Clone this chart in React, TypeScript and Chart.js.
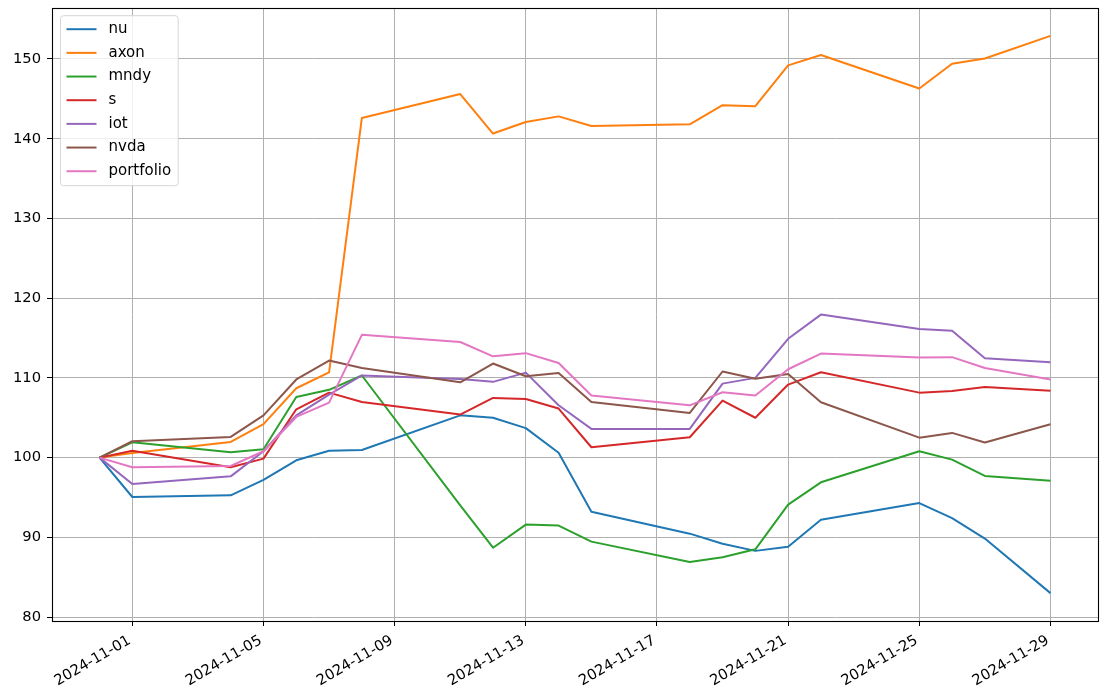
import React, { useEffect, useRef } from 'react';
import { Chart, registerables } from 'chart.js';

Chart.register(...registerables);

const dates = ['2024-10-31', '2024-11-01', '2024-11-04', '2024-11-05', '2024-11-06', '2024-11-07', '2024-11-08', '2024-11-11', '2024-11-12', '2024-11-13', '2024-11-14', '2024-11-15', '2024-11-18', '2024-11-19', '2024-11-20', '2024-11-21', '2024-11-22', '2024-11-25', '2024-11-26', '2024-11-27', '2024-11-29'];

const nu = [100, 95.06, 95.27, 97.2, 99.66, 100.87, 100.96, 105.3, 105.0, 103.7, 100.6, 93.2, 90.46, 89.2, 88.3, 88.83, 92.2, 94.3, 92.4, 89.84, 83.0];
const axon = [100, 100.58, 101.96, 104.2, 108.7, 110.7, 142.6, 145.6, 140.65, 142.1, 142.8, 141.6, 141.8, 144.2, 144.08, 149.2, 150.5, 146.3, 149.4, 150.06, 152.9];
const mndy = [100, 101.92, 100.66, 101.04, 107.6, 108.5, 110.3, 94.0, 88.7, 91.6, 91.47, 89.46, 86.9, 87.5, 88.5, 94.1, 96.9, 100.8, 99.75, 97.7, 97.1];
const s = [100, 100.87, 98.8, 99.87, 106.06, 108.15, 106.98, 105.4, 107.48, 107.36, 106.15, 101.3, 102.55, 107.15, 105.0, 109.16, 110.7, 108.15, 108.36, 108.86, 108.4];
const iot = [100, 96.7, 97.65, 100.8, 105.3, 107.9, 110.3, 109.87, 109.5, 110.66, 106.56, 103.6, 103.6, 109.28, 110.0, 114.9, 117.94, 116.14, 115.9, 112.46, 111.96];
const nvda = [100, 102.05, 102.6, 105.3, 109.8, 112.17, 111.24, 109.45, 111.8, 110.2, 110.6, 106.98, 105.6, 110.8, 109.9, 110.5, 106.94, 102.5, 103.1, 101.9, 104.18];
const portfolio = [100, 98.8, 98.95, 100.8, 105.1, 106.9, 115.4, 114.5, 112.7, 113.1, 111.87, 107.8, 106.56, 108.2, 107.8, 111.08, 113.05, 112.55, 112.6, 111.24, 109.8];

const seriesNames = ['nu', 'axon', 'mndy', 's', 'iot', 'nvda', 'portfolio'];
const seriesValues = [nu, axon, mndy, s, iot, nvda, portfolio];
const seriesColors = ['#1f77b4', '#ff7f0e', '#2ca02c', '#d62728', '#9467bd', '#8c564b', '#e377c2'];

const xTickLabels = ['2024-11-01', '2024-11-05', '2024-11-09', '2024-11-13', '2024-11-17', '2024-11-21', '2024-11-25', '2024-11-29'];
const yTickValues = [80, 90, 100, 110, 120, 130, 140, 150];

const DAY = 86400000;
const dayOf = (d: string) => (Date.parse(d) - Date.parse(dates[0])) / DAY;

const FONT = "'DejaVu Sans', sans-serif";
const TICK_FS = 14.7;
const LEGEND_FS = 15;

const frameSpines = {
  id: 'frameSpines',
  afterDatasetsDraw(chart: any) {
    const { ctx, chartArea } = chart;
    ctx.save();
    ctx.strokeStyle = '#000';
    ctx.lineWidth = 1.1;
    ctx.strokeRect(Math.round(chartArea.left) + 0.5, Math.round(chartArea.top) + 0.5,
      Math.round(chartArea.right - chartArea.left), Math.round(chartArea.bottom - chartArea.top));
    ctx.restore();
  },
};

const insideLegend = {
  id: 'insideLegend',
  afterDraw(chart: any) {
    const { ctx, chartArea } = chart;
    const datasets = chart.data.datasets;
    const fs = LEGEND_FS;
    const rowH = 23.67;
    const pad = 0.4 * fs;
    const handle = 2 * fs;
    const textPad = 0.8 * fs;
    const x0 = chartArea.left + 8.5;
    const y0 = chartArea.top + 7.7;
    ctx.save();
    ctx.font = `${fs}px ${FONT}`;
    let maxW = 0;
    datasets.forEach((d: any) => { maxW = Math.max(maxW, ctx.measureText(d.label).width); });
    const w = pad + handle + textPad + maxW + pad + 1;
    const h = 170;
    const r = 3;
    ctx.beginPath();
    ctx.moveTo(x0 + r, y0);
    ctx.lineTo(x0 + w - r, y0);
    ctx.quadraticCurveTo(x0 + w, y0, x0 + w, y0 + r);
    ctx.lineTo(x0 + w, y0 + h - r);
    ctx.quadraticCurveTo(x0 + w, y0 + h, x0 + w - r, y0 + h);
    ctx.lineTo(x0 + r, y0 + h);
    ctx.quadraticCurveTo(x0, y0 + h, x0, y0 + h - r);
    ctx.lineTo(x0, y0 + r);
    ctx.quadraticCurveTo(x0, y0, x0 + r, y0);
    ctx.closePath();
    ctx.fillStyle = 'rgba(255,255,255,0.8)';
    ctx.fill();
    ctx.strokeStyle = '#d6d6d6';
    ctx.lineWidth = 1;
    ctx.stroke();
    datasets.forEach((d: any, i: number) => {
      const cy = y0 + 13.5 + i * rowH;
      ctx.strokeStyle = d.borderColor;
      ctx.lineWidth = 2;
      ctx.lineCap = 'square';
      ctx.beginPath();
      ctx.moveTo(x0 + pad + 1, cy);
      ctx.lineTo(x0 + pad + handle - 1, cy);
      ctx.stroke();
      ctx.fillStyle = '#000';
      ctx.textBaseline = 'middle';
      ctx.textAlign = 'left';
      ctx.fillText(d.label, x0 + pad + handle + textPad, cy);
    });
    ctx.restore();
  },
};

export default function App() {
  const canvasRef = useRef<HTMLCanvasElement | null>(null);

  useEffect(() => {
    document.body.style.margin = '0';
    const canvas = canvasRef.current;
    if (!canvas) return;

    const xs = dates.map(dayOf);
    const xMinD = Math.min(...xs);
    const xMaxD = Math.max(...xs);
    const xPad = (xMaxD - xMinD) * 0.05;
    const allY = seriesValues.flat();
    const yMinD = Math.min(...allY);
    const yMaxD = Math.max(...allY);
    const yPad = (yMaxD - yMinD) * 0.05;

    const datasets = seriesNames.map((name, i) => ({
      label: name,
      data: seriesValues[i].map((v, j) => ({ x: xs[j], y: v })),
      borderColor: seriesColors[i],
      backgroundColor: seriesColors[i],
      borderWidth: 2,
      pointRadius: 0,
      tension: 0,
      fill: false,
      borderJoinStyle: 'round' as const,
      order: seriesNames.length - i,
    }));

    const chart = new Chart(canvas, {
      type: 'line',
      data: { datasets },
      plugins: [frameSpines, insideLegend],
      options: {
        animation: false,
        responsive: false,
        parsing: false,
        layout: { padding: { top: 8, right: 8, left: 0, bottom: 0 } },
        plugins: {
          legend: { display: false },
          tooltip: { enabled: false },
        },
        scales: {
          x: {
            type: 'linear',
            min: xMinD - xPad,
            max: xMaxD + xPad,
            afterBuildTicks: (scale: any) => {
              scale.ticks = xTickLabels.map((l) => ({ value: dayOf(l) }));
            },
            afterFit: (scale: any) => {
              scale.height = 74;
              scale.paddingLeft = 0;
              scale.paddingRight = 0;
            },
            ticks: {
              autoSkip: false,
              maxRotation: 30,
              minRotation: 30,
              padding: 6,
              labelOffset: -2.6,
              color: '#000',
              font: { family: FONT, size: TICK_FS },
              callback: (value: any) => {
                const idx = xTickLabels.findIndex((l) => dayOf(l) === value);
                return idx >= 0 ? xTickLabels[idx] : '';
              },
            },
            grid: { color: '#b0b0b0', lineWidth: 1, tickColor: '#000', tickLength: 5, tickWidth: 1 },
            border: { display: false },
          },
          y: {
            type: 'linear',
            min: yMinD - yPad,
            max: yMaxD + yPad,
            afterBuildTicks: (scale: any) => {
              scale.ticks = yTickValues.map((v) => ({ value: v }));
            },
            afterFit: (scale: any) => {
              scale.width = 52;
              scale.paddingTop = 0;
              scale.paddingBottom = 0;
            },
            ticks: {
              padding: 6,
              color: '#000',
              font: { family: FONT, size: TICK_FS },
              callback: (value: any) => String(value),
            },
            grid: { color: '#b0b0b0', lineWidth: 1, tickColor: '#000', tickLength: 5, tickWidth: 1 },
            border: { display: false },
          },
        },
      },
    });

    return () => { chart.destroy(); };
  }, []);

  return (
    <div style={{ width: 1106, height: 695, background: '#fff' }}>
      <canvas ref={canvasRef} width={1106} height={695} style={{ display: 'block' }} />
    </div>
  );
}
